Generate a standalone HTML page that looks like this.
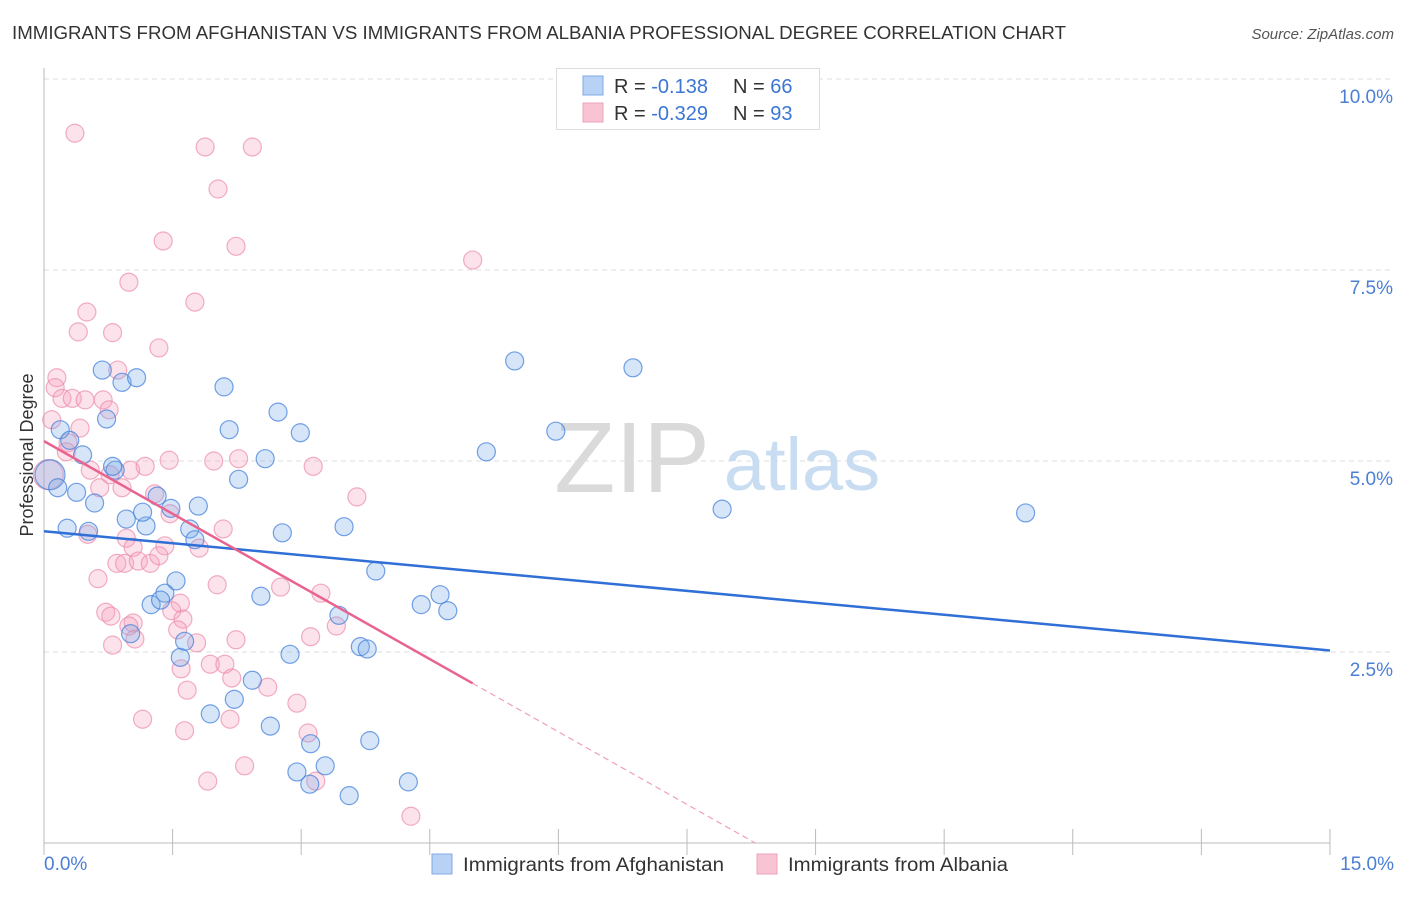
<!DOCTYPE html>
<html><head><meta charset="utf-8"><style>
body{margin:0;background:#fff;font-family:"Liberation Sans",sans-serif;}
svg text{font-family:"Liberation Sans",sans-serif;}
</style></head><body>
<svg id="chart" width="1406" height="892" viewBox="0 0 1406 892">
<text x="12" y="39" font-size="18" fill="#333" textLength="1054" lengthAdjust="spacingAndGlyphs">IMMIGRANTS FROM AFGHANISTAN VS IMMIGRANTS FROM ALBANIA PROFESSIONAL DEGREE CORRELATION CHART</text>
<text x="1394" y="39" font-size="15" fill="#555" font-style="italic" text-anchor="end">Source: ZipAtlas.com</text>
<g id="grid"></g>
<g>
<text x="632" y="492" font-size="100" fill="#dadada" font-family="Liberation Serif" text-anchor="middle">ZIP</text>
<text x="802" y="490" font-size="74" fill="#c8dcf2" text-anchor="middle">atlas</text>
</g>
<line x1="44" y1="68" x2="44" y2="843" stroke="#bbb"/>
<line x1="44" y1="843" x2="1330" y2="843" stroke="#bbb"/>
<g id="xticks"></g>
<g id="ylabels"></g>
<text x="44" y="870" font-size="19" fill="#4a7fd4">0.0%</text>
<text x="1394" y="870" font-size="19" fill="#4a7fd4" text-anchor="end">15.0%</text>
<text transform="translate(33,455) rotate(-90)" font-size="18" fill="#333" text-anchor="middle">Professional Degree</text>
<g id="pts"></g>
<g id="trends"></g>
<g>
<rect x="556.5" y="68.5" width="263" height="61" fill="#fff" stroke="#ddd"/>
<rect x="583" y="76" width="20" height="19" fill="#b8d2f5" stroke="#7fa9e6"/>
<rect x="583" y="103" width="20" height="19" fill="#f8c4d4" stroke="#eea3ba"/>
<text x="614" y="93" font-size="20" fill="#333">R = <tspan fill="#3b76d4"> -0.138</tspan></text>
<text x="733" y="93" font-size="20" fill="#333">N = <tspan fill="#3b76d4">66</tspan></text>
<text x="614" y="120" font-size="20" fill="#333">R = <tspan fill="#3b76d4">-0.329</tspan></text>
<text x="733" y="120" font-size="20" fill="#333">N = <tspan fill="#3b76d4">93</tspan></text>
</g>
<g>
<rect x="432" y="854" width="20" height="20" fill="#b8d2f5" stroke="#7fa9e6"/>
<text x="463" y="871" font-size="19" fill="#333" textLength="261" lengthAdjust="spacingAndGlyphs">Immigrants from Afghanistan</text>
<rect x="757" y="854" width="20" height="20" fill="#f8c4d4" stroke="#eea3ba"/>
<text x="788" y="871" font-size="19" fill="#333" textLength="220" lengthAdjust="spacingAndGlyphs">Immigrants from Albania</text>
</g>
</svg>
<script>
const yTicks=[2.5,5.0,7.5,10.0];
const yTickLabels=["2.5%","5.0%","7.5%","10.0%"];
const xTicks=[0,1.5,3,4.5,6,7.5,9,10.5,12,13.5,15];
const blueX=[0.68,0.91,1.08,0.73,2.10,2.16,2.73,2.99,2.58,2.27,0.45,0.83,0.80,0.19,0.30,0.07,0.16,0.38,0.59,0.27,0.52,0.96,1.19,1.15,1.32,1.48,1.80,1.70,1.76,2.78,3.50,5.49,6.87,5.97,5.16,7.91,11.45,3.87,1.54,1.41,1.25,1.36,1.01,1.59,1.64,2.53,3.44,4.40,4.62,4.71,2.87,3.69,3.77,1.94,2.43,2.22,2.64,3.11,2.95,3.28,3.10,3.80,3.56,4.25];
const blueY=[6.19,6.03,6.09,5.55,5.97,5.41,5.64,5.37,5.03,4.76,5.08,4.88,4.93,5.41,5.27,4.82,4.65,4.59,4.45,4.12,4.08,4.24,4.15,4.33,4.54,4.38,4.41,4.11,3.97,4.06,4.14,6.31,6.22,5.39,5.12,4.37,4.32,3.56,3.43,3.27,3.12,3.18,2.74,2.43,2.64,3.23,2.98,3.12,3.25,3.04,2.47,2.57,2.54,1.69,2.13,1.88,1.53,1.30,0.93,1.01,0.77,1.34,0.62,0.80];
const pinkX=[0.36,1.88,2.43,2.03,1.39,2.24,5.00,0.99,1.76,0.50,0.40,0.80,1.34,0.86,0.15,0.13,0.21,0.33,0.48,0.69,0.76,0.09,0.42,0.28,0.26,0.05,0.54,0.77,0.65,0.91,1.01,1.18,1.46,1.98,2.27,3.14,3.65,1.29,1.47,0.51,0.96,1.04,1.41,1.81,2.09,0.63,0.85,0.94,1.10,1.24,1.34,0.72,1.04,1.59,1.49,1.62,1.56,2.02,2.76,3.23,3.41,3.11,1.78,2.24,1.06,0.80,1.94,2.11,1.60,2.19,2.61,1.67,2.95,1.15,2.17,1.64,3.08,2.34,1.91,3.17,4.28,0.78,0.99];
const pinkY=[9.29,9.11,9.11,8.56,7.88,7.81,7.63,7.34,7.08,6.95,6.69,6.68,6.48,6.19,6.09,5.96,5.82,5.82,5.80,5.80,5.67,5.54,5.43,5.24,5.12,4.82,4.88,4.82,4.65,4.65,4.88,4.93,5.01,5.00,5.03,4.93,4.53,4.57,4.31,4.04,3.99,3.87,3.89,3.86,4.11,3.46,3.66,3.66,3.69,3.66,3.76,3.02,2.88,3.14,3.04,2.93,2.79,3.38,3.35,3.27,2.84,2.70,2.62,2.66,2.67,2.59,2.34,2.34,2.28,2.16,2.04,2.00,1.83,1.62,1.62,1.47,1.44,1.01,0.81,0.81,0.35,2.97,2.84];
const blueTrend=[4.08,2.52];
const pinkTrend=[5.26,2.09];
const pinkTrendEndX=5.0;
const NS="http://www.w3.org/2000/svg";
const sx=v=>44+v*85.73, sy=v=>843-v*76.4;
function mk(tag,attrs,parent){const e=document.createElementNS(NS,tag);for(const k in attrs)e.setAttribute(k,attrs[k]);parent.appendChild(e);return e;}
const grid=document.getElementById('grid'),yl=document.getElementById('ylabels'),xt=document.getElementById('xticks');
yTicks.forEach((t,i)=>{
 const l=mk('line',{x1:44,x2:1394,y1:sy(t),y2:sy(t),stroke:'#ddd','stroke-dasharray':'5,4'},grid);
 
 
 const tx=mk('text',{x:1393,y:sy(t)+24,'font-size':19,fill:'#4a7fd4','text-anchor':'end'},yl);
 tx.textContent=yTickLabels[i];
 
 
});
xTicks.forEach(t=>{
 const l=mk('line',{x1:sx(t),x2:sx(t),y1:829,y2:855,stroke:'#bbb'},xt);
 
 
});
const pts=document.getElementById('pts');
function series(X,Y,fill,stroke,name){X.forEach((x,i)=>{
 const big=(x<0.1&&Math.abs(Y[i]-4.82)<0.05);
 const c=mk('circle',{cx:sx(x),cy:sy(Y[i]),r:big?15:9,fill:fill,stroke:stroke,'stroke-width':1.2},pts);
 
 
});}
series(pinkX,pinkY,'rgba(244,160,188,0.3)','rgba(236,140,170,0.7)','point-albania');
series(blueX,blueY,'rgba(120,168,232,0.3)','rgba(70,130,220,0.75)','point-afghanistan');
const tr=document.getElementById('trends');
const b=mk('line',{x1:sx(0),y1:sy(blueTrend[0]),x2:sx(15),y2:sy(blueTrend[1]),stroke:'#2f6fd6','stroke-width':2.5},tr);


const p=mk('line',{x1:sx(0),y1:sy(pinkTrend[0]),x2:sx(pinkTrendEndX),y2:sy(pinkTrend[1]),stroke:'#e8648f','stroke-width':2.5},tr);


const slope=(pinkTrend[1]-pinkTrend[0])/pinkTrendEndX, x0=-pinkTrend[0]/slope;
const d=mk('line',{x1:sx(pinkTrendEndX),y1:sy(pinkTrend[1]),x2:sx(x0),y2:sy(0),stroke:'#f0a0b8','stroke-width':1.2,'stroke-dasharray':'6,4'},tr);


</script>
</body></html>
